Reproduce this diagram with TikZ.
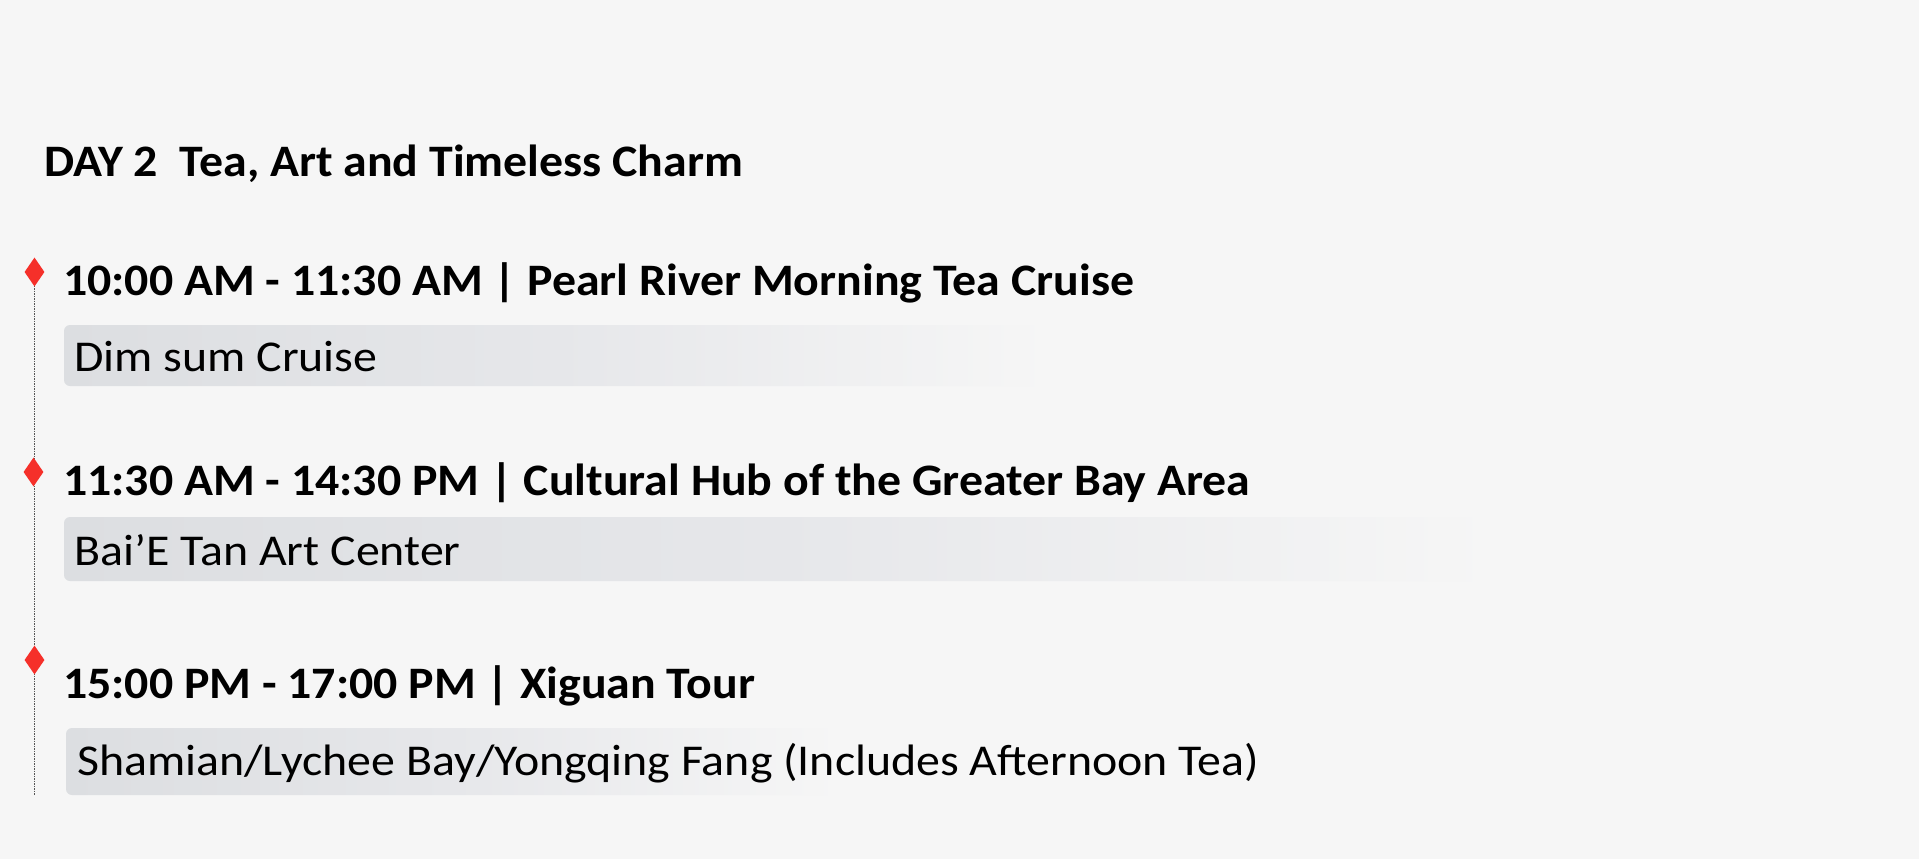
\documentclass[tikz,border=0pt]{standalone}
\usepackage{fontspec}
\setmainfont{Carlito}
\newfontfamily\headfont[FakeStretch=1.063]{Carlito}
\newfontfamily\subfont[FakeStretch=1.088]{Carlito}
\usetikzlibrary{shapes.geometric}
\definecolor{bg}{HTML}{F6F6F6}
\definecolor{barL}{HTML}{DCDEE1}
\definecolor{barM}{HTML}{E6E7EA}
\definecolor{dia}{HTML}{F5302A}
\definecolor{vline}{HTML}{555555}
\tikzset{
  headtxt/.style={anchor=base west, inner sep=0pt, font=\headfont\fontsize{45}{54}\selectfont\bfseries},
  subtxt/.style={anchor=base west, inner sep=0pt, font=\subfont\fontsize{44}{53}\selectfont},
  marker/.style={diamond, fill=dia, inner sep=0pt, minimum width=20pt, minimum height=29pt, aspect=0.69},
  barshade/.style={left color=barL, right color=bg, middle color=barM, rounded corners=6pt, draw=none},
}
\begin{document}
\begin{tikzpicture}[x=1pt,y=-1pt]
\useasboundingbox (0,0) rectangle (1919,859);
\fill[bg] (0,0) rectangle (1919,859);
\node[headtxt] (title) at (44,176.7) {DAY 2\ \ Tea, Art and Timeless Charm};
% timeline
\coordinate (lstart) at (34.5,258);
\coordinate (lend) at (34.5,795);
\draw[vline, line width=0.9pt, dash pattern=on 1.5pt off 1pt] (lstart) -- (lend);
% bars
\shade[barshade] (64,325) rectangle (1050,386);
\shade[barshade] (64,517) rectangle (1495,581);
\shade[barshade] (66,728) rectangle (840,795);
% markers
\node[marker] (m1) at (34.5,272) {};
\node[marker] (m2) at (33.5,472) {};
\node[marker] (m3) at (34.5,660) {};
% texts
\node[headtxt] (h1) at (63,295.7) {10:00 AM - 11:30 AM | Pearl River Morning Tea Cruise};
\node[subtxt] (s1) at (74,371.7) {Dim sum Cruise};
\node[headtxt] (h2) at (63,495) {11:30 AM - 14:30 PM | Cultural Hub of the Greater Bay Area};
\node[subtxt] (s2) at (74,565) {Bai’E Tan Art Center};
\node[headtxt] (h3) at (63,698) {15:00 PM - 17:00 PM | Xiguan Tour};
\node[subtxt] (s3) at (77,775) {Shamian/Lychee Bay/Yongqing Fang (Includes Afternoon Tea)};
\end{tikzpicture}
\end{document}
